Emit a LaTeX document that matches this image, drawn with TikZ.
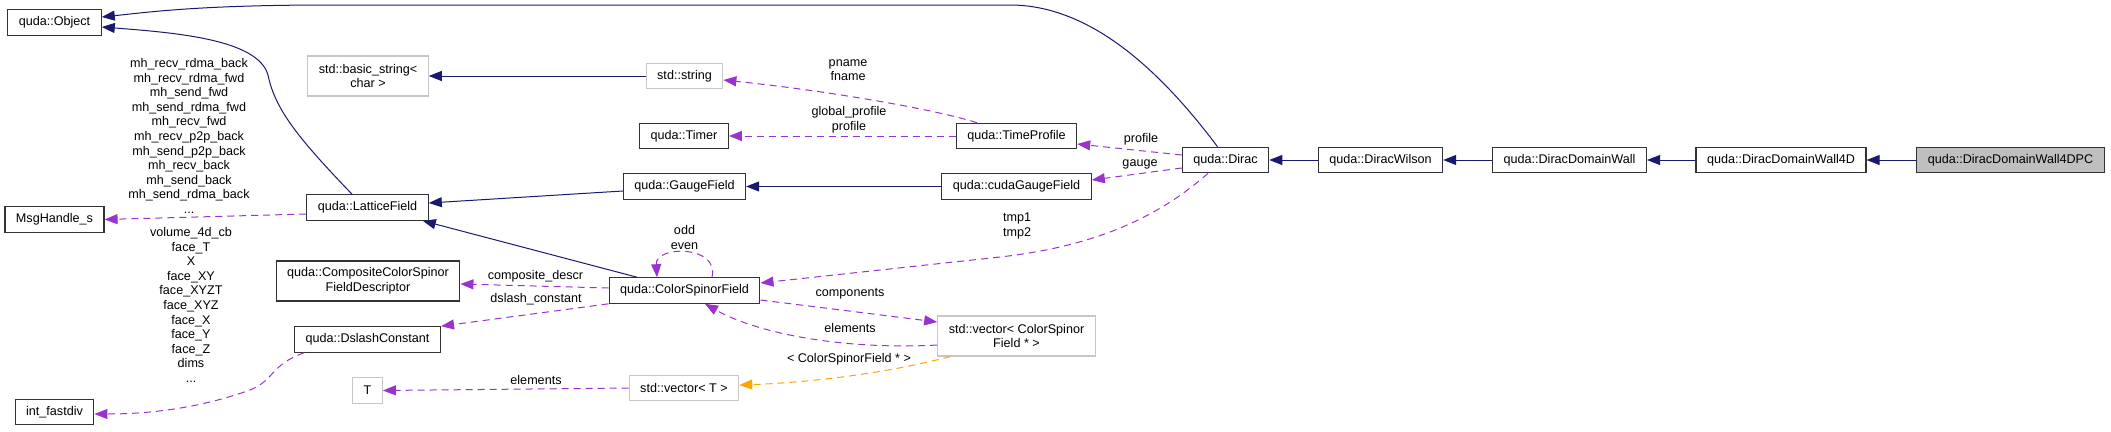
\documentclass[tikz,border=0pt]{standalone}
\usepackage{fontspec}
\setmainfont{Liberation Sans}
\usepackage{tikz}
\usetikzlibrary{arrows.meta}
\definecolor{edgeblue}{HTML}{191970}
\definecolor{edgeuse}{HTML}{9A32CD}
\definecolor{edgetmpl}{HTML}{FFA500}
\definecolor{boxgray}{HTML}{BFBFBF}

\begin{document}
\begin{tikzpicture}[x=1pt,y=-1pt,
  font=\fontsize{12.6}{14.6}\selectfont,
  cls/.style={draw=black!80,line width=1.1pt,fill=white,inner xsep=11pt,inner ysep=0pt,minimum height=25.5pt,align=center},
  ext/.style={cls,draw=black!22},
  main/.style={cls,fill=boxgray},
  two/.style={minimum height=40pt},
  lbl/.style={align=center,inner sep=0pt},
  tip/.style={-{Triangle[length=13pt,width=10pt]}},
  inh/.style={tip,draw=edgeblue,line width=1pt},
  use/.style={tip,draw=edgeuse,line width=1pt,dash pattern=on 7pt off 5pt},
  tmpl/.style={tip,draw=edgetmpl,line width=1pt,dash pattern=on 7pt off 5pt}]
\useasboundingbox (0,0) rectangle (2111,431);
\node[cls] (obj) at (54.5,22.5) {quda::Object};
\node[cls] (msg) at (54.5,219.5) {MsgHandle\_s};
\node[cls] (ifd) at (54.5,412) {int\_fastdiv};
\node[ext,two] (bstr) at (368,76) {std::basic\_string<\\char >};
\node[cls] (lat) at (367.5,207.5) {quda::LatticeField};
\node[cls,two] (ccs) at (368,281) {quda::CompositeColorSpinor\\FieldDescriptor};
\node[cls] (dsl) at (367.5,339.5) {quda::DslashConstant};
\node[ext] (T) at (367.5,390.5) {T};
\node[ext] (str) at (684.5,76) {std::string};
\node[cls] (tmr) at (684,136) {quda::Timer};
\node[cls] (gf) at (684.5,186.5) {quda::GaugeField};
\node[cls] (csf) at (684.5,290.5) {quda::ColorSpinorField};
\node[ext] (vt) at (684,388) {std::vector< T >};
\node[cls] (tp) at (1016.5,136) {quda::TimeProfile};
\node[cls] (cgf) at (1016.5,186.5) {quda::cudaGaugeField};
\node[ext,two] (vcsf) at (1016.5,336) {std::vector< ColorSpinor\\Field * >};
\node[cls] (dirac) at (1225.5,160) {quda::Dirac};
\node[cls] (dw) at (1380.5,160) {quda::DiracWilson};
\node[cls] (ddw) at (1569.5,160) {quda::DiracDomainWall};
\node[cls] (d4) at (1781,160) {quda::DiracDomainWall4D};
\node[main] (d4pc) at (2010.5,160) {quda::DiracDomainWall4DPC};

\draw[inh] (d4pc.west) -- (d4.east);
\draw[inh] (d4.west) -- (ddw.east);
\draw[inh] (ddw.west) -- (dw.east);
\draw[inh] (dw.west) -- (dirac.east);
\draw[inh] ([xshift=-8pt]dirac.north) .. controls (1160,70) and (1090,5) .. (1010,5) -- (330,5) .. controls (200,5) and (150,12) .. ([yshift=5.5pt]obj.east);
\draw[inh] ([xshift=-15.5pt]lat.north) .. controls (300,140) and (275,110) .. (268,75) .. controls (258,40) and (180,33) .. ([yshift=-4.5pt]obj.east);
\draw[inh] (str.west) -- (bstr.east);
\draw[inh] (cgf.west) -- (gf.east);
\draw[inh] ([yshift=-4.5pt]gf.west) -- ([yshift=4.5pt]lat.east);
\draw[inh] ([xshift=-47.5pt]csf.north) -- ([xshift=-6pt]lat.south east);
\draw[use] ([xshift=-39.5pt]tp.north) .. controls (930,108) and (820,90) .. ([yshift=-4pt]str.east);
\draw[use] (tp.west) -- (tmr.east);
\draw[use] ([yshift=5pt]dirac.west) -- ([yshift=-8pt]tp.east);
\draw[use] ([yshift=-8pt]dirac.west) -- ([yshift=6.5pt]cgf.east);
\draw[use] ([yshift=-6.5pt]lat.west) -- (msg.east);
\draw[use] ([xshift=10pt]dsl.south west) .. controls (270,365) and (275,380) .. (250,390) .. controls (200,408) and (150,414) .. ([yshift=-2pt]ifd.east);
\draw[use] ([yshift=2.5pt]csf.west) -- ([yshift=-3pt]ccs.east);
\draw[use] (csf.south west) -- (dsl.north east);
\draw[use] ([xshift=27.5pt]csf.north) .. controls (720,245) and (655,245) .. ([xshift=-27.5pt]csf.north);
\draw[use] ([xshift=-17.5pt]dirac.south) .. controls (1150,225) and (1080,248) .. (1000,257) -- ([yshift=7.5pt]csf.east);
\draw[use] ([yshift=-9.5pt]csf.east) -- ([yshift=14pt]vcsf.west);
\draw[use] ([yshift=-9pt]vcsf.west) .. controls (850,350) and (760,335) .. ([xshift=20.5pt]csf.south);
\draw[use] (vt.west) -- (T.east);
\draw[tmpl] ([xshift=13pt]vcsf.south west) .. controls (880,375) and (800,383) .. ([yshift=3pt]vt.east);

\node[lbl] (lmsg) at (189,136) {mh\_recv\_rdma\_back\\mh\_recv\_rdma\_fwd\\mh\_send\_fwd\\mh\_send\_rdma\_fwd\\mh\_recv\_fwd\\mh\_recv\_p2p\_back\\mh\_send\_p2p\_back\\mh\_recv\_back\\mh\_send\_back\\mh\_send\_rdma\_back\\...};
\node[lbl] (lifd) at (191,305) {volume\_4d\_cb\\face\_T\\X\\face\_XY\\face\_XYZT\\face\_XYZ\\face\_X\\face\_Y\\face\_Z\\dims\\...};
\node[lbl] (lname) at (848,70) {pname\\fname};
\node[lbl] (lglob) at (849,120) {global\_profile\\profile};
\node[lbl] (lprof) at (1141,139) {profile};
\node[lbl] (lgauge) at (1140,164) {gauge};
\node[lbl] (ltmp) at (1017,226) {tmp1\\tmp2};
\node[lbl] (lodd) at (684.5,237.5) {odd\\even};
\node[lbl] (lcomp) at (850,294) {components};
\node[lbl] (lelem) at (850,328) {elements};
\node[lbl] (ltmpl) at (849,359) {< ColorSpinorField * >};
\node[lbl] (ldescr) at (535.5,276) {composite\_descr};
\node[lbl] (ldsl) at (536,299) {dslash\_constant};
\node[lbl] (lelemT) at (536,380) {elements};
\end{tikzpicture}
\end{document}
